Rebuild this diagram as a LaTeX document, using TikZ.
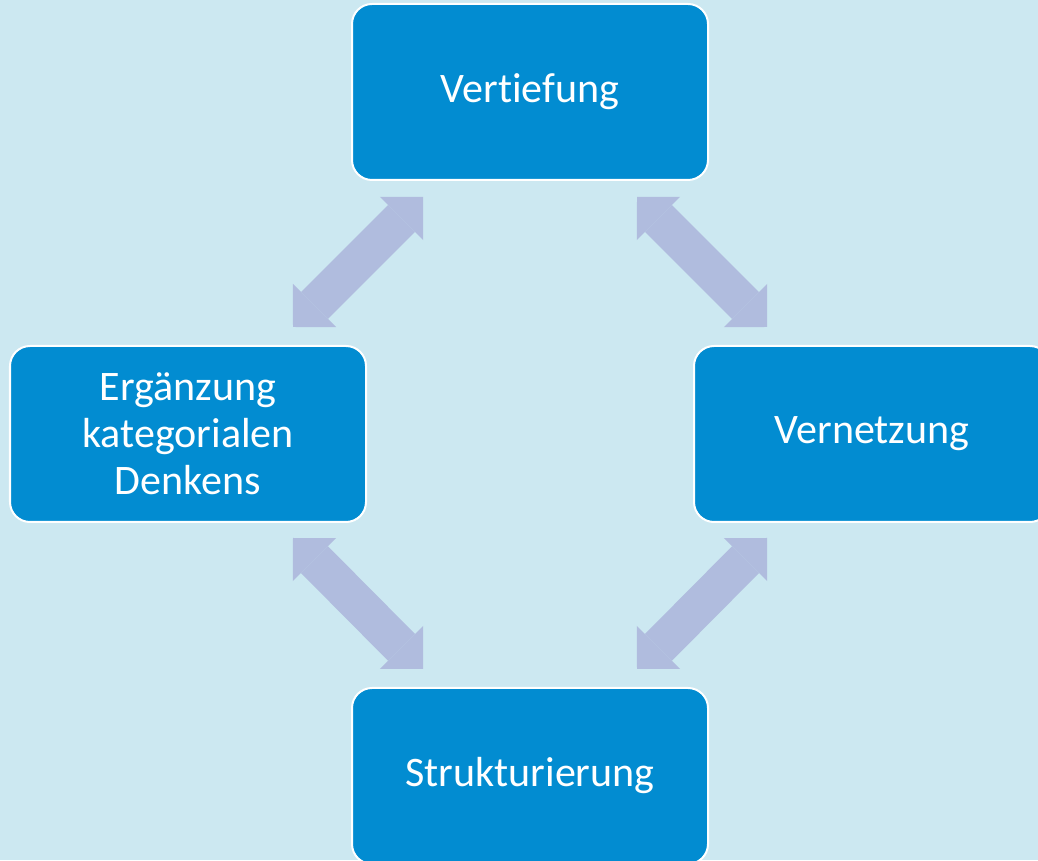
\documentclass[tikz,border=0pt]{standalone}
\usepackage{fontspec}
\setmainfont{Carlito}[Ligatures={NoCommon,NoContextual,NoRare}]
\usetikzlibrary{arrows.meta}

\definecolor{bgblue}{RGB}{204,232,241}
\definecolor{boxblue}{RGB}{2,140,209}
\definecolor{arrowlav}{RGB}{176,188,222}

\begin{document}
\begin{tikzpicture}[
            box/.style = {rectangle,
                rounded corners = 0.5cm,
                fill = boxblue,
                draw = white,
                line width = 0.05cm,
                minimum width = 8.9cm,
                minimum height = 4.4cm,
                text = white,
                align = center,
                font = \fontsize{29.9}{33.5}\selectfont
                },
            biarrow/.style = {arrowlav,
                line width = 0.95cm,
                arrows = {Triangle[length=0.76cm,width=1.525cm,line width=0pt]-Triangle[length=0.76cm,width=1.525cm,line width=0pt]}
                }]
        
        % Background
        \useasboundingbox (0,0) rectangle (25.95,21.5);
        \clip (0,0) rectangle (25.95,21.5);
        \fill[bgblue] (0,0) rectangle (25.95,21.5);
        
        % Boxes
        \node[box] (vert) at (13.25,19.2) {Vert\kern0pt iefung};
        \node[box] (erg) at (4.7,10.65) {Ergänzung\\kategorialen\\Denkens};
        \node[box] (vern) at (21.8,10.65) {Vernetzung};
        \node[box] (struk) at (13.25,2.1) {Strukturierung};
        
        % Arrows
        \draw[biarrow] ([shift={(1.8,-0.4)}]vert.south west) -- ([shift={(-1.85,0.45)}]erg.north east);
        \draw[biarrow] ([shift={(-1.8,-0.4)}]vert.south east) -- ([shift={(1.85,0.45)}]vern.north west);
        \draw[biarrow] ([shift={(-1.85,-0.375)}]erg.south east) -- ([shift={(1.8,0.45)}]struk.north west);
        \draw[biarrow] ([shift={(1.85,-0.375)}]vern.south west) -- ([shift={(-1.8,0.45)}]struk.north east);
        
        \end{tikzpicture}
\end{document}
